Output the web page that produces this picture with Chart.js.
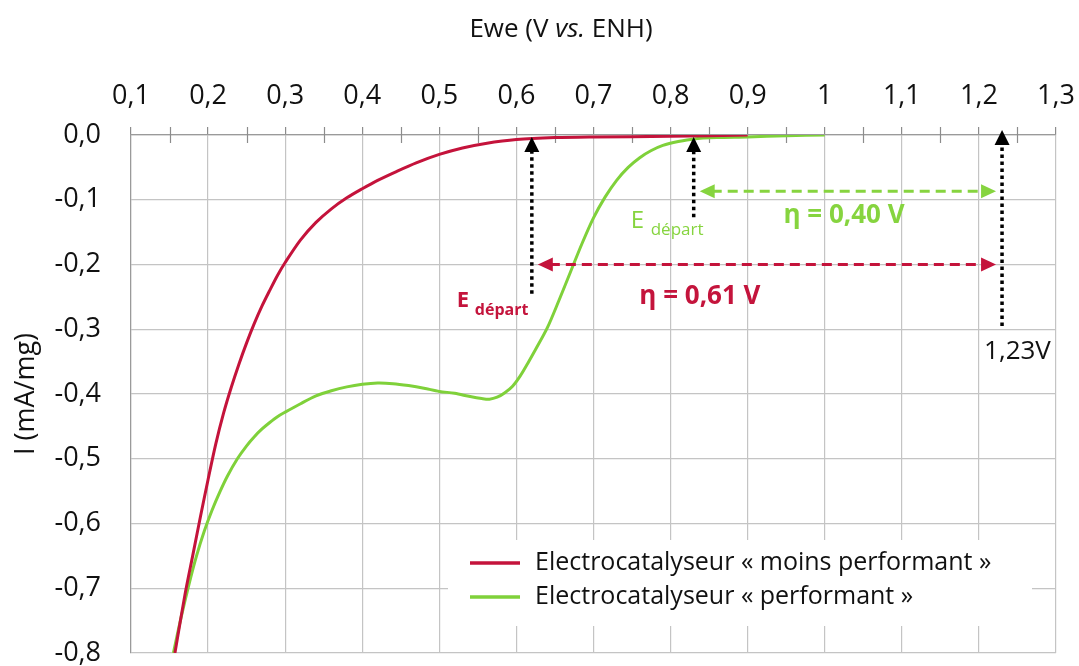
<!doctype html>
<html lang="fr">
<head>
<meta charset="UTF-8" />
<title>Courbes de polarisation – électrocatalyseurs</title>
<script src="https://cdn.jsdelivr.net/npm/chart.js"></script>
<style>
  html, body { margin: 0; padding: 0; background: #fff; }
  #wrap { width: 1079px; height: 666px; }
</style>
</head>
<body>
<div id="wrap"><canvas id="chart" width="1079" height="666"></canvas></div>
<script>
  // Potential (V vs. ENH) and current (mA/mg) for each catalyst
  const redE = [0.157, 0.17, 0.18, 0.19, 0.2, 0.21, 0.22, 0.23, 0.24, 0.25, 0.26, 0.27, 0.28, 0.29, 0.3, 0.32, 0.34, 0.36, 0.38, 0.4, 0.42, 0.445, 0.47, 0.5, 0.53, 0.56, 0.6, 0.65, 0.7, 0.8, 0.9];
  const redI = [-0.8, -0.71, -0.65, -0.59, -0.532, -0.477, -0.43, -0.39, -0.354, -0.321, -0.291, -0.264, -0.24, -0.217, -0.197, -0.162, -0.135, -0.114, -0.097, -0.083, -0.07, -0.056, -0.043, -0.03, -0.02, -0.013, -0.007, -0.004, -0.003, -0.002, 0];
  const greenE = [0.155, 0.165, 0.175, 0.185, 0.195, 0.205, 0.215, 0.225, 0.238, 0.25, 0.26, 0.27, 0.28, 0.29, 0.3, 0.32, 0.34, 0.36, 0.38, 0.4, 0.42, 0.44, 0.46, 0.48, 0.5, 0.52, 0.54, 0.555, 0.565, 0.575, 0.585, 0.595, 0.605, 0.615, 0.625, 0.64, 0.655, 0.67, 0.685, 0.7, 0.715, 0.73, 0.745, 0.76, 0.775, 0.79, 0.81, 0.83, 0.86, 0.9, 0.95, 1.0];
  const greenI = [-0.8, -0.745, -0.695, -0.65, -0.612, -0.58, -0.552, -0.527, -0.5, -0.48, -0.466, -0.454, -0.444, -0.435, -0.428, -0.415, -0.403, -0.395, -0.389, -0.385, -0.383, -0.384, -0.387, -0.391, -0.396, -0.399, -0.404, -0.407, -0.408, -0.405, -0.398, -0.388, -0.372, -0.352, -0.331, -0.298, -0.256, -0.212, -0.168, -0.128, -0.096, -0.07, -0.05, -0.035, -0.024, -0.016, -0.01, -0.006, -0.004, -0.003, -0.001, 0];

  const seriesLabels = ['Electrocatalyseur « moins performant »', 'Electrocatalyseur « performant »'];
  const seriesColors = ['#c4133b', '#7fd13a'];
  const textColors = ['#c4143c', '#86d43f'];

  // onset potentials (E départ) and the 1.23 V reference
  const onsetE = [0.62, 0.83];
  const refE = 1.23;
  const overpotentials = [0.61, 0.40];
  const refLabel = '1,23V';

  const FONT = "'Open Sans', 'DejaVu Sans', sans-serif";
  const fmt = v => String(Number(v.toFixed(2))).replace('.', ',');

  function arrowHead(ctx, x, y, angle, len, half) {
    ctx.save();
    ctx.translate(x, y);
    ctx.rotate(angle);
    ctx.beginPath();
    ctx.moveTo(0, 0);
    ctx.lineTo(-len, -half);
    ctx.lineTo(-len, half);
    ctx.closePath();
    ctx.fill();
    ctx.restore();
  }

  // small ticks between the labelled ones, legend box, axis titles
  const decorations = {
    id: 'decorations',
    beforeDatasetsDraw(chart) {
      const { ctx, chartArea: a, scales: { x } } = chart;
      ctx.save();
      ctx.strokeStyle = '#8c8c8c';
      ctx.lineWidth = 1.2;
      for (let v = 0.15; v < 1.3; v += 0.1) {
        const px = Math.round(x.getPixelForValue(v)) + 0.5;
        ctx.beginPath();
        ctx.moveTo(px, a.top - 8);
        ctx.lineTo(px, a.top + 8);
        ctx.stroke();
      }
      // legend sits on a white patch over the grid
      const lx = a.left + 317, ly = a.top + 405;
      ctx.fillStyle = '#fff';
      ctx.fillRect(lx, ly, 584, 86);
      ctx.font = `25px ${FONT}`;
      ctx.textBaseline = 'middle';
      seriesLabels.forEach((label, i) => {
        const cy = ly + 23 + i * 34;
        ctx.strokeStyle = seriesColors[i];
        ctx.lineWidth = 3.5;
        ctx.beginPath();
        ctx.moveTo(lx + 22, cy);
        ctx.lineTo(lx + 72, cy);
        ctx.stroke();
        ctx.fillStyle = '#111';
        ctx.fillText(label, lx + 87, cy);
      });

      // axis titles
      ctx.fillStyle = '#111';
      ctx.textBaseline = 'middle';
      const parts = [['Ewe (V ', ''], ['vs.', 'italic '], [' ENH)', '']];
      let total = 0;
      parts.forEach(([t, st]) => { ctx.font = `${st}26px ${FONT}`; total += ctx.measureText(t).width; });
      let tx = 561 - total / 2;
      ctx.textAlign = 'left';
      parts.forEach(([t, st]) => {
        ctx.font = `${st}26px ${FONT}`;
        ctx.fillText(t, tx, 30);
        tx += ctx.measureText(t).width;
      });
      ctx.save();
      ctx.translate(26, (a.top + a.bottom) / 2);
      ctx.rotate(-Math.PI / 2);
      ctx.textAlign = 'center';
      ctx.font = `27px ${FONT}`;
      ctx.fillText('I (mA/mg)', 0, 0);
      ctx.restore();
      ctx.restore();
    },
    afterDatasetsDraw(chart) {
      const { ctx, scales: { x, y } } = chart;
      const top = y.getPixelForValue(0);
      ctx.save();

      // dotted black markers with arrow heads pointing at the axis
      const markers = [
        { e: onsetE[0], from: -0.245, tip: top + 2 },
        { e: onsetE[1], from: -0.127, tip: top + 2 },
        { e: refE, from: -0.295, tip: top - 5 }
      ];
      markers.forEach(m => {
        const px = x.getPixelForValue(m.e);
        ctx.strokeStyle = '#000';
        ctx.fillStyle = '#000';
        ctx.lineWidth = 3.5;
        ctx.setLineDash([3.5, 3.5]);
        ctx.beginPath();
        ctx.moveTo(px, y.getPixelForValue(m.from));
        ctx.lineTo(px, m.tip + 14);
        ctx.stroke();
        ctx.setLineDash([]);
        arrowHead(ctx, px, m.tip, -Math.PI / 2, 15, 7.5);
      });

      // dashed double arrows spanning the overpotential
      const spans = [
        { e: onsetE[0], level: -0.2, color: seriesColors[0] },
        { e: onsetE[1], level: -0.087, color: '#86d43f' }
      ];
      spans.forEach(s => {
        const x1 = x.getPixelForValue(s.e) + 6;
        const x2 = x.getPixelForValue(refE) - 6;
        const py = y.getPixelForValue(s.level);
        ctx.strokeStyle = s.color;
        ctx.fillStyle = s.color;
        ctx.lineWidth = 3;
        ctx.setLineDash([10, 6]);
        ctx.beginPath();
        ctx.moveTo(x1 + 12, py);
        ctx.lineTo(x2 - 12, py);
        ctx.stroke();
        ctx.setLineDash([]);
        arrowHead(ctx, x1, py, Math.PI, 15, 7);
        arrowHead(ctx, x2, py, 0, 15, 7);
      });

      // E départ labels
      const rx = x.getPixelForValue(onsetE[0]);
      ctx.textBaseline = 'alphabetic';
      ctx.textAlign = 'left';
      ctx.fillStyle = textColors[0];
      ctx.font = `bold 22px ${FONT}`;
      ctx.fillText('E', rx - 75, 307);
      ctx.font = `bold 16px ${FONT}`;
      ctx.fillText('départ', rx - 57, 315);

      const gx = x.getPixelForValue(onsetE[1]);
      ctx.fillStyle = textColors[1];
      ctx.font = `24px ${FONT}`;
      ctx.fillText('E', gx - 63, 228);
      ctx.font = `17px ${FONT}`;
      ctx.fillText('départ', gx - 43, 235);

      // overpotential values
      ctx.textAlign = 'center';
      ctx.textBaseline = 'middle';
      ctx.font = `bold 26px ${FONT}`;
      ctx.fillStyle = textColors[0];
      ctx.fillText('η = ' + overpotentials[0].toFixed(2).replace('.', ',') + ' V', x.getPixelForValue(0.838), y.getPixelForValue(-0.25));
      ctx.fillStyle = textColors[1];
      ctx.fillText('η = ' + overpotentials[1].toFixed(2).replace('.', ',') + ' V', x.getPixelForValue(1.025), y.getPixelForValue(-0.125));

      ctx.textAlign = 'left';
      ctx.font = `26px ${FONT}`;
      ctx.fillStyle = '#111';
      ctx.fillText(refLabel, x.getPixelForValue(refE) - 18, y.getPixelForValue(-0.334));
      ctx.restore();
    }
  };

  const toPoints = (xs, ys) => xs.map((v, i) => ({ x: v, y: ys[i] }));

  new Chart(document.getElementById('chart'), {
    type: 'scatter',
    data: {
      datasets: [
        { label: seriesLabels[0], data: toPoints(redE, redI), borderColor: seriesColors[0] },
        { label: seriesLabels[1], data: toPoints(greenE, greenI), borderColor: seriesColors[1] }
      ].map(d => ({ ...d, showLine: true, pointRadius: 0, borderWidth: 3, tension: 0.3 }))
    },
    options: {
      responsive: false,
      animation: false,
      devicePixelRatio: 1,
      layout: { padding: { top: 0, right: 23, bottom: 13, left: 0 } },
      plugins: { legend: { display: false }, tooltip: { enabled: false } },
      scales: {
        x: {
          type: 'linear',
          position: 'top',
          min: 0.1,
          max: 1.3,
          ticks: { stepSize: 0.1, callback: v => fmt(v), font: { family: FONT, size: 27 }, color: '#111', padding: 14, maxRotation: 0, autoSkip: false },
          grid: { color: '#c4c4c4', lineWidth: 1.2, tickLength: 8, tickColor: '#8c8c8c' },
          border: { color: '#9a9a9a', width: 1.2 },
          afterFit(scale) {
            scale.height = 135;
            scale.paddingLeft = 0;
            scale.paddingRight = 0;
          }
        },
        y: {
          min: -0.8,
          max: 0,
          ticks: { stepSize: 0.1, callback: v => (Math.abs(v) < 1e-9 ? '0,0' : v.toFixed(1).replace('.', ',')), font: { family: FONT, size: 27 }, color: '#111', padding: 30 },
          grid: { color: '#c4c4c4', lineWidth: 1.2, drawTicks: false },
          border: { color: '#9a9a9a', width: 1.2 },
          afterFit(scale) {
            scale.width = 131;
            scale.paddingTop = 0;
            scale.paddingBottom = 0;
          }
        }
      }
    },
    plugins: [decorations]
  });
</script>
</body>
</html>
